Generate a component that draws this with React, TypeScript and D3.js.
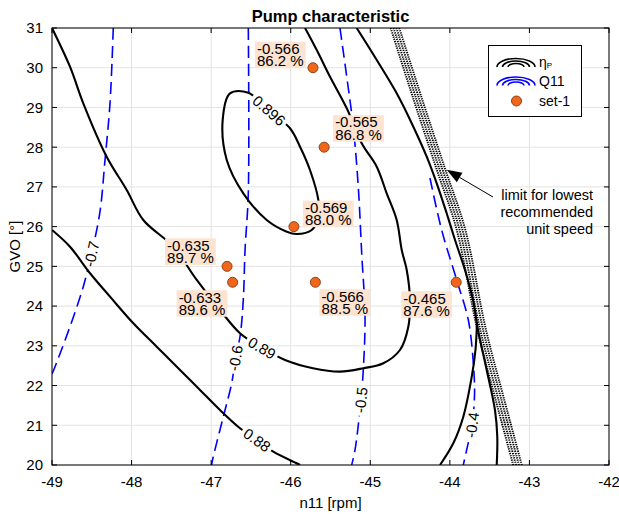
import React from "react";
import * as d3 from "d3";

type Pt = [number, number];

// Axes
const xDomain: [number, number] = [-49, -42];
const yDomain: [number, number] = [20, 31];
const xTicks = [-49, -48, -47, -46, -45, -44, -43, -42];
const yTicks = [20, 21, 22, 23, 24, 25, 26, 27, 28, 29, 30, 31];

// Efficiency (eta_p) contour lines, [n11, GVO]
const eta088: Pt[] = [
  [-49, 25.916], [-48.774, 25.495], [-48.522, 24.826], [-48.271, 24.237],
  [-47.978, 23.567], [-47.684, 22.978], [-47.391, 22.392], [-47.14, 21.889],
  [-46.889, 21.385], [-46.637, 20.925], [-46.424, 20.63], [-46.219, 20.335],
  [-45.925, 20.043], [-45.883, 20.0],
];
const eta089: Pt[] = [
  [-49, 31], [-48.774, 30.026], [-48.607, 29.105], [-48.313, 27.761],
  [-48.061, 26.923], [-47.853, 26.167], [-47.476, 25.495], [-47.181, 24.657],
  [-46.889, 23.902], [-46.637, 23.316], [-46.361, 22.946], [-46.072, 22.644],
  [-45.72, 22.435], [-45.381, 22.35], [-45.088, 22.435], [-44.836, 22.561],
  [-44.627, 22.895], [-44.522, 23.482], [-44.501, 24.154], [-44.542, 24.909],
  [-44.605, 25.412], [-44.668, 26.167], [-44.794, 26.839], [-44.919, 27.509],
  [-45.108, 28.098], [-45.296, 28.979], [-45.506, 29.774], [-45.673, 30.446],
  [-45.82, 31],
];
const eta0896: Pt[] = [
  [-46.533, 29.372], [-46.763, 29.356], [-46.855, 28.684], [-46.804, 27.678],
  [-46.596, 26.839], [-46.302, 26.167], [-46.05, 25.873], [-45.925, 25.815],
  [-45.736, 25.916], [-45.653, 26.251], [-45.653, 26.671], [-45.758, 27.426],
  [-45.883, 28.012], [-46.009, 28.476], [-46.273, 28.923],
];
const etaOuterA: Pt[] = [
  [-45.171, 31], [-44.919, 30.195], [-44.668, 29.356], [-44.459, 28.516],
  [-44.291, 27.761], [-44.165, 27.091], [-44.04, 26.336], [-43.935, 25.664],
  [-43.81, 24.909], [-43.709, 24.154], [-43.646, 23.399], [-43.537, 22.392],
  [-43.433, 21.385], [-43.404, 20.713], [-43.411, 20.0],
];
const etaOuterB: Pt[] = [
  [-43.659, 23.6], [-43.678, 22.895], [-43.725, 22.223], [-43.831, 21.216],
  [-43.957, 20.547], [-44.124, 20.0],
];

// Unit discharge (Q11) contour lines
const q07: Pt[] = [
  [-48.23, 31], [-48.271, 29.105], [-48.334, 27.678], [-48.397, 26.376],
  [-48.504, 25.312], [-48.607, 24.489], [-48.774, 23.482], [-48.962, 22.475],
  [-49, 22.29],
];
const q06: Pt[] = [
  [-46.533, 31], [-46.533, 26.839], [-46.574, 25.412], [-46.596, 24.154],
  [-46.637, 23.23], [-46.694, 22.694], [-46.742, 22.057], [-46.847, 21.217],
  [-46.973, 20.21], [-46.995, 20.0],
];
const q05: Pt[] = [
  [-45.381, 31], [-45.296, 29.774], [-45.214, 28.516], [-45.151, 27.006],
  [-45.108, 25.329], [-45.066, 23.734], [-45.088, 22.392], [-45.117, 21.637],
  [-45.192, 20.378], [-45.234, 20.0],
];
const q04: Pt[] = [
  [-44.25, 27.225], [-44.103, 25.916], [-43.914, 24.657], [-43.768, 23.65],
  [-43.705, 22.561], [-43.69, 21.763], [-43.722, 21.008], [-43.789, 20.378],
  [-43.831, 20.0],
];

// Lowest recommended unit speed limit
const limitLine: Pt[] = [
  [-44.69, 31], [-44.4, 29.19], [-44.11, 27.43], [-43.86, 25.92],
  [-43.6, 23.4], [-43.37, 21.64], [-43.15, 20],
];

// Contour labels: which line, vertex index where the label sits, text
const etaLabels = [
  { line: eta088, at: 10, text: "0.88" },
  { line: eta089, at: 10, text: "0.89" },
  { line: eta0896, at: 14, text: "0.896" },
];
const q11Labels = [
  { line: q07, at: 4, text: "-0.7" },
  { line: q06, at: 5, text: "-0.6" },
  { line: q05, at: 7, text: "-0.5" },
  { line: q04, at: 6, text: "-0.4" },
];

// Measured operating points (set-1)
const setN11 = [-45.72, -45.58, -45.96, -46.8, -46.73, -45.69, -43.92];
const setGVO = [30.0, 28.0, 26.0, 25.0, 24.6, 24.6, 24.6];
const setQ11 = ["-0.566", "-0.565", "-0.569", "-0.635", "-0.633", "-0.566", "-0.465"];
const setEta = ["86.2", "86.8", "88.0", "89.7", "89.6", "88.5", "87.6"];

// Annotation for the speed limit
const limitNote = ["limit for lowest", "recommended", "unit speed"];
const arrowTip: Pt = [-44.04, 27.43];
const arrowTail: Pt = [-43.458, 26.746];
const noteAnchor: Pt = [-42.2, 26.67];

// ---- layout / style ----
const W = 619;
const H = 514;
const L = 52, R = 609, T = 28, B = 465;
const FONT = '"Liberation Sans", Arial, Helvetica, sans-serif';
const LABEL_FS = 15;
const TICK_FS = 15;
const BOX_FILL = "#FDE3D0";
const ORANGE = "#F0661A";
// top-left offset of each value box relative to its marker, px
const boxOffsets: [number, number][] = [
  [-58, -26], [9, -32], [9, -26], [-62, -28], [-56, 8], [4, 7], [-55, 9],
];

const CHAR_W: Record<string, number> = {
  "0": 0.556, "1": 0.556, "2": 0.556, "3": 0.556, "4": 0.556, "5": 0.556,
  "6": 0.556, "7": 0.556, "8": 0.556, "9": 0.556, ".": 0.278, "-": 0.333,
  " ": 0.278, "%": 0.889,
};
const textW = (s: string, fs: number) =>
  s.split("").reduce((a, c) => a + (CHAR_W[c] ?? 0.556), 0) * fs;

type Placed = { cx: number; cy: number; ang: number; text: string; w: number };

export default function App() {
  const x = d3.scaleLinear().domain(xDomain).range([L, R]);
  const y = d3.scaleLinear().domain(yDomain).range([B, T]);

  const lineGen = d3
    .line<Pt>()
    .x((d) => x(d[0]))
    .y((d) => y(d[1]))
    .curve(d3.curveCatmullRom.alpha(0.5));
  const closedGen = d3
    .line<Pt>()
    .x((d) => x(d[0]))
    .y((d) => y(d[1]))
    .curve(d3.curveCatmullRomClosed.alpha(0.5));

  const placeLabel = (lab: { line: Pt[]; at: number; text: string }): Placed => {
    const n = lab.line.length;
    const p = lab.line[lab.at];
    const prev = lab.line[(lab.at - 1 + n) % n];
    const next = lab.line[(lab.at + 1) % n];
    let ang =
      (Math.atan2(y(next[1]) - y(prev[1]), x(next[0]) - x(prev[0])) * 180) / Math.PI;
    if (ang > 90) ang -= 180;
    if (ang < -90) ang += 180;
    return { cx: x(p[0]), cy: y(p[1]), ang, text: lab.text, w: textW(lab.text, LABEL_FS) };
  };
  const etaPlaced = etaLabels.map(placeLabel);
  const qPlaced = q11Labels.map(placeLabel);

  const gapRect = (l: Placed, i: number) => (
    <rect
      key={i}
      x={-l.w / 2 - 3}
      y={-7.5}
      width={l.w + 6}
      height={15}
      fill="black"
      transform={`translate(${l.cx},${l.cy}) rotate(${l.ang})`}
    />
  );
  const labelText = (l: Placed, i: number) => (
    <text
      key={i}
      transform={`translate(${l.cx},${l.cy}) rotate(${l.ang})`}
      textAnchor="middle"
      dy="0.36em"
      fontSize={LABEL_FS}
      fill="#000"
    >
      {l.text}
    </text>
  );

  const bandOffsets = [-4.3, -1.45, 1.45, 4.3];
  const tip = [x(arrowTip[0]), y(arrowTip[1])];
  const tail = [x(arrowTail[0]), y(arrowTail[1])];
  const aAng = Math.atan2(tail[1] - tip[1], tail[0] - tip[0]);
  const headLen = 15, headHalf = 5.5;
  const hb = [tip[0] + headLen * Math.cos(aAng), tip[1] + headLen * Math.sin(aAng)];
  const head = [
    tip,
    [hb[0] + headHalf * Math.sin(aAng), hb[1] - headHalf * Math.cos(aAng)],
    [hb[0] - headHalf * Math.sin(aAng), hb[1] + headHalf * Math.cos(aAng)],
  ];

  const arcPath = (cx: number, cy: number, rx: number, ry: number) =>
    `M${cx - rx},${cy} A${rx},${ry} 0 0 1 ${cx + rx},${cy}`;

  return (
    <svg
      width={W}
      height={H}
      style={{ position: "absolute", left: 0, top: 0, background: "#fff" }}
      fontFamily={FONT}
    >
      <defs>
        <clipPath id="plotClip">
          <rect x={L} y={T} width={R - L} height={B - T} />
        </clipPath>
        <mask id="etaMask" maskUnits="userSpaceOnUse" x={0} y={0} width={W} height={H}>
          <rect x={0} y={0} width={W} height={H} fill="white" />
          {etaPlaced.map(gapRect)}
        </mask>
        <mask id="qMask" maskUnits="userSpaceOnUse" x={0} y={0} width={W} height={H}>
          <rect x={0} y={0} width={W} height={H} fill="white" />
          {qPlaced.map(gapRect)}
        </mask>
      </defs>

      <rect x={L} y={T} width={R - L} height={B - T} fill="#fff" />

      {/* grid */}
      <g stroke="#e3e3e3" strokeWidth={1}>
        {xTicks.map((t) => (
          <line key={t} x1={x(t)} x2={x(t)} y1={T} y2={B} />
        ))}
        {yTicks.map((t) => (
          <line key={t} x1={L} x2={R} y1={y(t)} y2={y(t)} />
        ))}
      </g>

      <g clipPath="url(#plotClip)">
        {/* speed limit band */}
        <g fill="none" stroke="#000" strokeWidth={1.9} strokeDasharray="1.3,1">
          {bandOffsets.map((o, i) => (
            <path key={i} d={lineGen(limitLine) ?? ""} transform={`translate(${o},0)`} />
          ))}
        </g>

        {/* Q11 contours */}
        <g mask="url(#qMask)" fill="none" stroke="#0000FF" strokeWidth={1.6} strokeDasharray="12,6">
          {[q07, q06, q05, q04].map((ln, i) => (
            <path key={i} d={lineGen(ln) ?? ""} />
          ))}
        </g>

        {/* efficiency contours */}
        <g mask="url(#etaMask)" fill="none" stroke="#000" strokeWidth={2.1}>
          {[eta088, eta089, etaOuterA, etaOuterB].map((ln, i) => (
            <path key={i} d={lineGen(ln) ?? ""} />
          ))}
          <path d={closedGen(eta0896) ?? ""} />
        </g>

        {etaPlaced.map(labelText)}
        {qPlaced.map(labelText)}
      </g>

      {/* axes box and ticks */}
      <rect x={L} y={T} width={R - L} height={B - T} fill="none" stroke="#000" strokeWidth={1} />
      <g stroke="#000" strokeWidth={1}>
        {xTicks.map((t) => (
          <g key={t}>
            <line x1={x(t)} x2={x(t)} y1={B} y2={B - 5} />
            <line x1={x(t)} x2={x(t)} y1={T} y2={T + 5} />
          </g>
        ))}
        {yTicks.map((t) => (
          <g key={t}>
            <line x1={L} x2={L + 5} y1={y(t)} y2={y(t)} />
            <line x1={R} x2={R - 5} y1={y(t)} y2={y(t)} />
          </g>
        ))}
      </g>
      <g fontSize={TICK_FS} fill="#000">
        {xTicks.map((t) => (
          <text key={t} x={x(t)} y={487} textAnchor="middle">
            {t}
          </text>
        ))}
        {yTicks.map((t) => (
          <text key={t} x={43} y={y(t)} dy="0.36em" textAnchor="end">
            {t}
          </text>
        ))}
        <text x={(L + R) / 2} y={508} textAnchor="middle">
          n11 [rpm]
        </text>
        <text transform={`translate(20,${(T + B) / 2}) rotate(-90)`} textAnchor="middle">
          GVO [°]
        </text>
      </g>
      <text x={(L + R) / 2} y={22} textAnchor="middle" fontSize={16.5} fontWeight="bold">
        Pump characteristic
      </text>

      {/* operating points with value boxes */}
      {setN11.map((n, i) => {
        const px = x(n);
        const py = y(setGVO[i]);
        const l1 = setQ11[i];
        const l2 = `${setEta[i]} %`;
        const bw = Math.max(textW(l1, LABEL_FS), textW(l2, LABEL_FS)) + 4;
        const bx = px + boxOffsets[i][0];
        const by = py + boxOffsets[i][1];
        return (
          <g key={i}>
            <rect x={bx} y={by} width={bw} height={26.5} fill={BOX_FILL} />
            <text x={bx + 2} y={by + 12.3} fontSize={LABEL_FS}>
              <tspan x={bx + 2}>{l1}</tspan>
              <tspan x={bx + 2} dy={12.4}>
                {l2}
              </tspan>
            </text>
          </g>
        );
      })}
      {setN11.map((n, i) => (
        <circle
          key={i}
          cx={x(n)}
          cy={y(setGVO[i])}
          r={5}
          fill={ORANGE}
          stroke="#8E4219"
          strokeWidth={1}
        />
      ))}

      {/* limit annotation */}
      <line x1={tail[0]} y1={tail[1]} x2={hb[0]} y2={hb[1]} stroke="#000" strokeWidth={1} />
      <polygon points={head.map((p) => p.join(",")).join(" ")} fill="#000" />
      <g fontSize={14.5} textAnchor="end">
        {limitNote.map((s, i) => (
          <text key={i} x={x(noteAnchor[0])} y={y(noteAnchor[1]) + i * 17}>
            {s}
          </text>
        ))}
      </g>

      {/* legend */}
      <g>
        <rect x={488.5} y={45.5} width={93} height={71} fill="#fff" stroke="#000" strokeWidth={1} />
        <g fill="none" stroke="#000" strokeWidth={1.6}>
          {[[19, 8.5], [13.5, 6], [8, 3.5]].map(([rx, ry], i) => (
            <path key={i} d={arcPath(516, 67, rx, ry)} />
          ))}
        </g>
        <g fill="none" stroke="#0000FF" strokeWidth={1.6}>
          {[[19, 8.5], [13.5, 6], [8, 3.5]].map(([rx, ry], i) => (
            <path key={i} d={arcPath(516, 85.5, rx, ry)} />
          ))}
        </g>
        <circle cx={516.5} cy={101} r={5} fill={ORANGE} stroke="#8E4219" strokeWidth={1} />
        <g fontSize={14}>
          <text x={539} y={67}>
            η<tspan fontSize={8} dy={1}>P</tspan>
          </text>
          <text x={539} y={86}>Q11</text>
          <text x={539} y={106}>set-1</text>
        </g>
      </g>
    </svg>
  );
}
